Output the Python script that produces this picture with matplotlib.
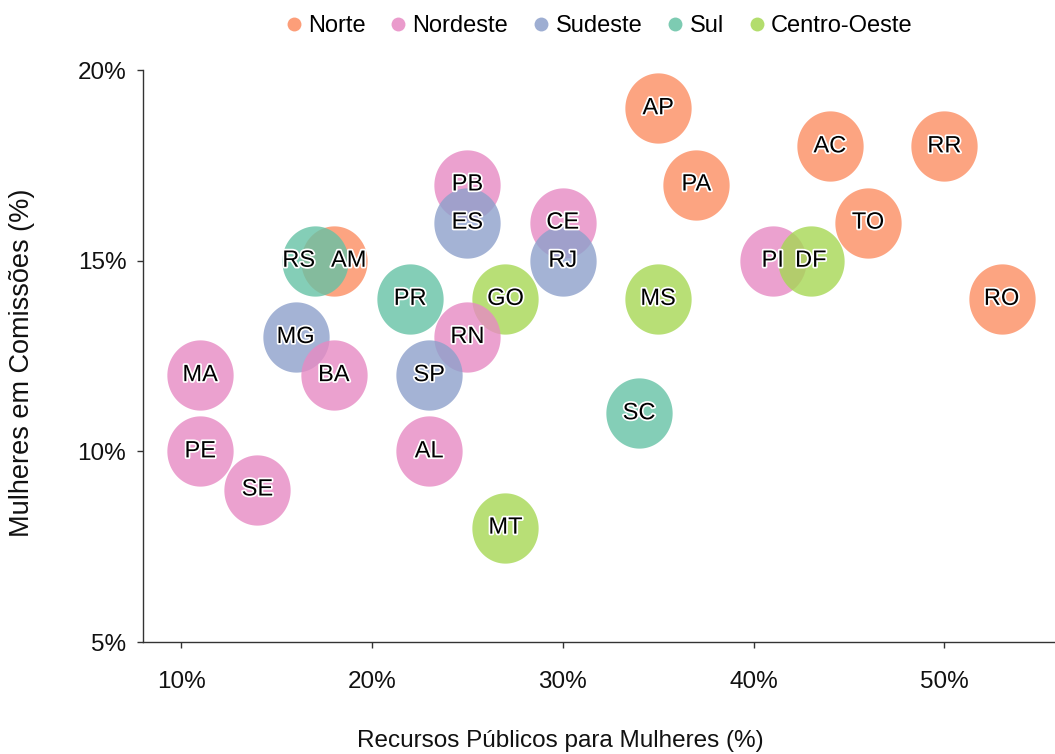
import numpy as np
import matplotlib.pyplot as plt
import matplotlib.patheffects as pe
from matplotlib.lines import Line2D
from matplotlib.path import Path
from matplotlib.ticker import FuncFormatter

plt.rcParams['font.family'] = ['Liberation Sans', 'DejaVu Sans']

# data: state, region, public resources for women (%), women in committees (%)
states = ['AP', 'AC', 'RR', 'PA', 'TO', 'AM', 'RO',
          'PB', 'CE', 'PI', 'MA', 'BA', 'RN', 'PE', 'AL', 'SE',
          'ES', 'RJ', 'MG', 'SP',
          'RS', 'PR', 'SC',
          'GO', 'MS', 'DF', 'MT']
regions = ['Norte'] * 7 + ['Nordeste'] * 9 + ['Sudeste'] * 4 + ['Sul'] * 3 + ['Centro-Oeste'] * 4
recursos = [35, 44, 50, 37, 46, 18, 53,
            25, 30, 41, 11, 18, 25, 11, 23, 14,
            25, 30, 16, 23,
            17, 22, 34,
            27, 35, 43, 27]
comissoes = [19, 18, 18, 17, 16, 15, 14,
             17, 16, 15, 12, 12, 13, 10, 10, 9,
             16, 15, 13, 12,
             15, 14, 11,
             14, 14, 15, 8]

region_order = ['Norte', 'Nordeste', 'Sudeste', 'Sul', 'Centro-Oeste']
colors = {'Norte': '#FC8D62', 'Nordeste': '#E78AC3', 'Sudeste': '#8DA0CB',
          'Sul': '#66C2A5', 'Centro-Oeste': '#A6D854'}

# labels pushed apart where bubbles overlap
label_shift = {'RS': -16, 'AM': 15}

# the source image is slightly stretched vertically, so bubbles are a bit taller than wide
t = np.linspace(0, 2 * np.pi, 100)
bubble = Path(np.column_stack([np.cos(t) / 1.06, np.sin(t)]), closed=True)

fig = plt.figure(figsize=(10.55, 7.54), dpi=100)
ax = fig.add_axes([0.1355, 0.1485, 0.8645, 0.7585])

# draw from top to bottom so lower bubbles sit on top
order = sorted(range(len(states)), key=lambda i: -comissoes[i])
for k, i in enumerate(order):
    ax.scatter(recursos[i], comissoes[i], s=2560, marker=bubble, color=colors[regions[i]],
               alpha=0.8, linewidths=0, zorder=2 + k * 0.01)

for i, st in enumerate(states):
    dx = label_shift.get(st, 0)
    ax.annotate(st, (recursos[i], comissoes[i]), xytext=(dx * 0.72, 0),
                textcoords='offset points', ha='center', va='center',
                fontsize=17, color='black', zorder=5,
                path_effects=[pe.withStroke(linewidth=2.5, foreground='white')])

ax.set_xlim(8.0, 55.8)
ax.set_ylim(5, 20)
ax.set_xticks([10, 20, 30, 40, 50])
ax.set_yticks([5, 10, 15, 20])
ax.xaxis.set_major_formatter(FuncFormatter(lambda v, p: f'{v:.0f}%'))
ax.yaxis.set_major_formatter(FuncFormatter(lambda v, p: f'{v:.0f}%'))

for side in ['top', 'right']:
    ax.spines[side].set_visible(False)
for side in ['left', 'bottom']:
    ax.spines[side].set_color('#333333')
    ax.spines[side].set_linewidth(1.0)
ax.tick_params(axis='both', colors='#333333', length=4, width=1, labelsize=17.5,
               labelcolor='#111111')
ax.tick_params(axis='x', pad=17)
ax.tick_params(axis='y', pad=8)

fig.text(560 / 1055, 1 - 741 / 754, 'Recursos Públicos para Mulheres (%)', fontsize=17.5,
         color='#111111', ha='center', va='center')
fig.text(22 / 1055, 1 - 363 / 754, 'Mulheres em Comissões (%)', fontsize=19.5,
         color='#111111', ha='center', va='center', rotation=90)

handles = [Line2D([0], [0], marker='o', linestyle='', markersize=10,
                  markerfacecolor=colors[r], markeredgewidth=0, alpha=0.85)
           for r in region_order]
fig.legend(handles, region_order, loc='upper center', bbox_to_anchor=(0.566, 1.008),
           ncol=5, frameon=False, fontsize=17, handletextpad=0.1, columnspacing=0.9,
           handlelength=1.0)

fig.savefig('out.png', dpi=100)
